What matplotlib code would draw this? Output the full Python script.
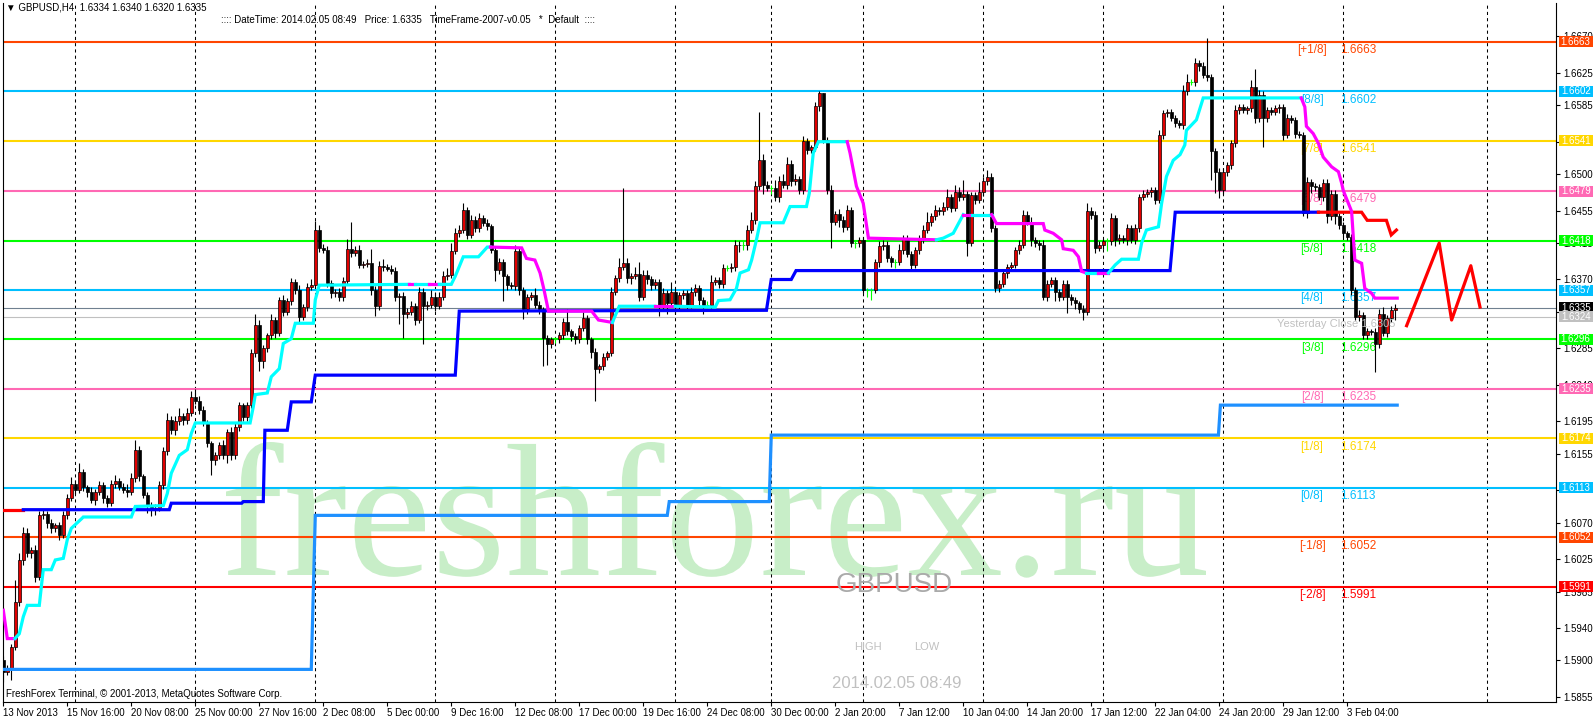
import numpy as np
import matplotlib
matplotlib.use("Agg")
import matplotlib.pyplot as plt
import matplotlib.transforms as mtransforms
from matplotlib.patches import Rectangle, PathPatch
from matplotlib.textpath import TextPath
from matplotlib.font_manager import FontProperties

plt.rcParams['font.family'] = ['Liberation Sans', 'DejaVu Sans']

# ---- candles (H4 GBPUSD, prices in pips: 16335 = 1.6335) ----
first_open = 15900
closes = [
    15886, 15890, 15917, 15972, 16024, 16057, 16032, 16036, 16003, 16079,
    16081, 16069, 16063, 16067, 16055, 16079, 16101, 16118, 16110, 16132,
    16114, 16108, 16098, 16108, 16117, 16100, 16094, 16118, 16121, 16114,
    16110, 16108, 16125, 16160, 16127, 16104, 16092, 16086, 16088, 16116,
    16158, 16197, 16184, 16195, 16201, 16197, 16205, 16225, 16220, 16209,
    16193, 16168, 16147, 16153, 16166, 16153, 16182, 16153, 16188, 16215,
    16200, 16215, 16279, 16314, 16269, 16285, 16301, 16320, 16304, 16345,
    16330, 16343, 16367, 16357, 16324, 16336, 16361, 16363, 16431, 16409,
    16407, 16366, 16353, 16355, 16349, 16368, 16408, 16403, 16406, 16388,
    16389, 16390, 16357, 16337, 16387, 16385, 16383, 16381, 16349, 16350,
    16327, 16330, 16337, 16320, 16355, 16337, 16339, 16349, 16337, 16349,
    16374, 16376, 16405, 16427, 16431, 16456, 16425, 16444, 16433, 16446,
    16440, 16436, 16407, 16382, 16392, 16374, 16363, 16362, 16405, 16357,
    16333, 16349, 16351, 16339, 16333, 16298, 16290, 16296, 16296, 16301,
    16318, 16306, 16300, 16296, 16310, 16322, 16296, 16281, 16259, 16263,
    16275, 16279, 16355, 16372, 16386, 16390, 16372, 16374, 16377, 16349,
    16376, 16370, 16363, 16367, 16337, 16353, 16341, 16355, 16339, 16351,
    16353, 16339, 16355, 16359, 16345, 16339, 16339, 16367, 16369, 16365,
    16384, 16384, 16386, 16413, 16412, 16412, 16431, 16443, 16485, 16517,
    16487, 16483, 16483, 16472, 16492, 16487, 16513, 16491, 16494, 16480,
    16541, 16530, 16533, 16584, 16600, 16542, 16480, 16441, 16451, 16443,
    16435, 16456, 16415, 16415, 16419, 16357, 16357, 16357, 16391, 16411,
    16413, 16396, 16392, 16392, 16406, 16421, 16402, 16388, 16406, 16419,
    16431, 16441, 16448, 16456, 16454, 16460, 16472, 16458, 16478, 16472,
    16475, 16415, 16474, 16468, 16478, 16491, 16497, 16433, 16359, 16365,
    16378, 16386, 16388, 16406, 16413, 16450, 16441, 16419, 16415, 16413,
    16349, 16365, 16369, 16355, 16349, 16365, 16349, 16345, 16341, 16334,
    16330, 16454, 16450, 16409, 16413, 16417, 16417, 16446, 16419, 16421,
    16419, 16433, 16419, 16433, 16472, 16476, 16478, 16480, 16468, 16548,
    16575, 16577, 16569, 16563, 16561, 16602, 16614, 16614, 16637, 16633,
    16622, 16620, 16528, 16503, 16480, 16503, 16511, 16538, 16579, 16583,
    16579, 16581, 16608, 16569, 16598, 16569, 16579, 16577, 16581, 16583,
    16548, 16569, 16567, 16550, 16548, 16452, 16490, 16485, 16484, 16472,
    16489, 16448, 16476, 16448, 16437, 16427, 16423, 16357, 16324, 16326,
    16302, 16306, 16305, 16291, 16328, 16304, 16322, 16332, 16335,
]
upper_wicks = [
    5, 4, 3, 27, 8, 8, 6, 4, 6, 5,
    6, 4, 6, 3, 4, 5, 4, 8, 5, 12,
    4, 3, 6, 4, 5, 3, 4, 5, 8, 4,
    5, 8, 6, 12, 4, 3, 4, 3, 5, 6,
    5, 8, 4, 6, 10, 4, 6, 8, 10, 6,
    5, 4, 3, 4, 3, 6, 4, 6, 5, 4,
    3, 4, 5, 14, 6, 4, 3, 8, 4, 4,
    6, 4, 5, 4, 6, 4, 5, 8, 11, 6,
    5, 4, 3, 3, 4, 5, 12, 33, 5, 6,
    4, 5, 18, 5, 6, 8, 4, 5, 4, 3,
    4, 5, 6, 4, 6, 4, 4, 8, 5, 6,
    6, 8, 10, 6, 6, 8, 4, 6, 4, 6,
    4, 5, 3, 4, 5, 3, 3, 4, 8, 4,
    4, 3, 3, 8, 4, 3, 4, 3, 3, 4,
    5, 16, 3, 4, 4, 8, 4, 3, 4, 3,
    4, 3, 6, 4, 10, 93, 6, 4, 8, 14,
    6, 6, 4, 4, 3, 6, 4, 12, 4, 3,
    4, 4, 6, 5, 4, 3, 4, 8, 4, 4,
    5, 4, 4, 6, 5, 5, 6, 10, 6, 60,
    8, 5, 4, 10, 6, 8, 8, 5, 6, 4,
    6, 4, 3, 5, 2, 0, 4, 6, 4, 6,
    5, 6, 4, 3, 3, 4, 3, 3, 4, 6,
    6, 4, 3, 3, 8, 4, 4, 3, 4, 6,
    6, 12, 4, 6, 4, 6, 10, 4, 8, 6,
    18, 4, 4, 4, 12, 5, 8, 4, 4, 4,
    4, 3, 3, 4, 6, 6, 4, 6, 4, 4,
    6, 4, 4, 4, 3, 4, 4, 3, 4, 3,
    4, 10, 6, 4, 5, 3, 4, 6, 4, 5,
    4, 6, 4, 5, 4, 5, 4, 4, 4, 6,
    4, 3, 3, 4, 4, 8, 10, 3, 6, 4,
    5, 46, 4, 4, 4, 5, 4, 4, 6, 4,
    4, 3, 8, 22, 6, 5, 4, 4, 4, 4,
    4, 5, 4, 4, 3, 4, 6, 4, 4, 4,
    5, 5, 4, 4, 4, 4, 3, 3, 4, 6,
    4, 4, 3, 5, 5, 8, 4, 5, 5,
]
lower_wicks = [
    12, 4, 14, 4, 5, 6, 4, 5, 6, 4,
    4, 5, 6, 4, 6, 4, 5, 4, 5, 4,
    5, 6, 4, 6, 4, 6, 5, 4, 5, 4,
    4, 6, 4, 5, 6, 4, 10, 8, 6, 4,
    5, 4, 5, 6, 4, 6, 5, 4, 4, 5,
    4, 5, 18, 6, 4, 5, 10, 6, 4, 5,
    4, 5, 4, 5, 12, 8, 5, 4, 6, 4,
    5, 4, 4, 5, 6, 4, 5, 4, 4, 5,
    4, 5, 6, 4, 5, 6, 4, 5, 4, 4,
    4, 3, 6, 12, 5, 4, 3, 4, 5, 34,
    29, 5, 4, 6, 4, 46, 5, 4, 6, 4,
    4, 5, 4, 4, 5, 4, 5, 4, 5, 4,
    4, 5, 4, 14, 5, 30, 6, 4, 5, 6,
    12, 5, 4, 4, 6, 35, 25, 4, 4, 4,
    4, 5, 6, 5, 4, 4, 6, 8, 39, 4,
    5, 4, 3, 4, 5, 4, 6, 8, 4, 5,
    4, 5, 6, 5, 12, 5, 14, 4, 12, 6,
    5, 8, 4, 5, 6, 12, 4, 5, 4, 5,
    6, 4, 5, 5, 8, 6, 5, 4, 5, 4,
    12, 4, 8, 5, 6, 4, 5, 6, 4, 5,
    4, 5, 4, 5, 6, 4, 4, 32, 4, 8,
    6, 4, 5, 6, 5, 4, 8, 12, 4, 6,
    5, 4, 6, 8, 4, 5, 4, 8, 4, 5,
    4, 4, 5, 4, 5, 4, 4, 5, 4, 5,
    4, 16, 4, 5, 4, 5, 4, 5, 4, 5,
    4, 6, 5, 4, 5, 4, 4, 8, 5, 6,
    4, 5, 4, 12, 5, 4, 20, 6, 8, 5,
    10, 4, 5, 6, 4, 5, 12, 4, 8, 5,
    4, 6, 4, 5, 4, 4, 4, 6, 5, 4,
    5, 4, 4, 5, 4, 5, 4, 4, 5, 6,
    4, 5, 35, 26, 10, 4, 5, 5, 4, 5,
    4, 5, 4, 6, 5, 36, 5, 4, 4, 5,
    6, 4, 4, 5, 4, 4, 6, 8, 5, 4,
    5, 8, 5, 10, 5, 4, 4, 6, 4, 5,
    6, 5, 4, 35, 5, 4, 5, 4, 12,
]

# ---- trailing line (cyan up / magenta down), vertices in bars / pips ----
trail_bars = [0, 1, 2.9, 4, 5, 6, 9, 9.6, 10, 12, 13, 15, 16, 17, 19.6, 20, 32, 33, 40, 41,
              42, 44, 46, 47, 48, 61.7, 62.5, 63, 66, 67, 69, 70, 72, 73, 77.5, 78, 79,
              101.5, 103, 106.5, 109, 112, 113, 115, 118.8, 121, 121.8, 129.6, 130.8, 132.9,
              134.2, 135.2, 136.3, 147.1, 148.8, 152.3, 152.7, 154, 162.9, 168, 178, 178.8,
              181.7, 183.3, 184.2, 186.3, 187.1, 188.3, 189.2, 195, 196.7, 200.8, 201.5, 202.5,
              203.8, 211, 211.7, 213.3, 215, 216.3, 233.3, 235, 237.5, 240, 242.1, 247.1,
              248.3, 260, 260.4, 262.5, 264.6, 265, 267.5, 268.8, 269.6, 270.8, 273.8, 276.3,
              278, 279.6, 283.8, 284.6, 285.8, 288.8, 289.6, 290.8, 292.5, 294.2, 295.4, 295.8,
              298.3, 300, 324.5, 325.4, 325.8, 327.5, 328.8, 330, 332.1, 333.8, 334.6, 335,
              337.1, 337.9, 339.6, 340.4, 342.1, 342.9, 348.5]
trail_pips = [15962, 15927, 15927, 15933, 15954, 15968, 15968, 15995, 16012, 16012, 16024, 16026,
              16049, 16063, 16075, 16077, 16077, 16090, 16091, 16106, 16131, 16153, 16160, 16180,
              16193, 16193, 16213, 16228, 16230, 16250, 16260, 16291, 16297, 16316, 16316, 16345,
              16363, 16364, 16364, 16364, 16364, 16364, 16374, 16398, 16398, 16410, 16410, 16409,
              16396, 16394, 16378, 16357, 16331, 16331, 16320, 16317, 16322, 16337, 16337, 16337,
              16336, 16344, 16345, 16359, 16378, 16382, 16394, 16419, 16440, 16440, 16460, 16460,
              16476, 16526, 16540, 16540, 16526, 16485, 16464, 16421, 16419, 16421, 16427, 16450,
              16450, 16450, 16439, 16439, 16431, 16427, 16419, 16408, 16406, 16398, 16380, 16378,
              16378, 16378, 16388, 16395, 16395, 16415, 16431, 16435, 16464, 16497, 16517, 16524,
              16536, 16554, 16567, 16594, 16594, 16583, 16559, 16550, 16538, 16521, 16509, 16503,
              16489, 16480, 16454, 16394, 16390, 16359, 16353, 16347, 16347]
trail_down = [(0, 2.9), (101.5, 103), (106.5, 109), (121.8, 152.3), (162.9, 168), (211, 233.3),
              (240, 242.1), (247.1, 270.8), (273.8, 276.3), (324.5, 348.5)]

# ---- blue step line (red where price is below) ----
step_bars = [-0.2, 5, 41.5, 42, 59.6, 60, 65, 65.4, 71, 72, 77, 78, 113, 114, 190.8, 192, 197,
             198.2, 291.7, 293, 328.8, 339.6, 341, 345.8, 347, 348.3]
step_pips = [16086, 16086, 16086, 16094, 16094, 16096, 16096, 16184, 16184, 16219, 16219, 16252,
             16252, 16331, 16332, 16370, 16370, 16381, 16381, 16453, 16453, 16453, 16443, 16443,
             16425, 16431]
step_red = [(-0.2, 5), (328.8, 348.3)]

# ---- lower support step line ----
support_bars = [-0.1, 77, 78, 166, 166.5, 191.5, 192, 303.8, 304.3, 348.5]
support_pips = [15889, 15889, 16079, 16079, 16096, 16096, 16178, 16178, 16215, 16215]

# ---- forecast zigzag ----
zig_bars = [350.85, 359.0, 362.1, 366.9, 369.2]
zig_pips = [16313, 16415, 16320, 16387, 16336]

# ---- Murrey math levels ----
murrey_names = ["[+1/8]", "[8/8]", "[7/8]", "[6/8]", "[5/8]", "[4/8]", "[3/8]", "[2/8]",
                "[1/8]", "[0/8]", "[-1/8]", "[-2/8]"]
murrey_prices = [1.6663, 1.6602, 1.6541, 1.6479, 1.6418, 1.6357, 1.6296, 1.6235, 1.6174,
                 1.6113, 1.6052, 1.5991]
murrey_colors = ["#FF4500", "#00BFFF", "#FFD700", "#FF69B4", "#00FF00", "#00BFFF", "#00FF00",
                 "#FF69B4", "#FFD700", "#00BFFF", "#FF4500", "#FF0000"]

ytick_values = [1.6670, 1.6625, 1.6585, 1.6540, 1.6500, 1.6455, 1.6415, 1.6370, 1.6330, 1.6285,
                1.6240, 1.6195, 1.6155, 1.6110, 1.6070, 1.6025, 1.5985, 1.5940, 1.5900, 1.5855]
# labels fully covered by the level boxes are left empty
ytick_labels = ["1.6670", "1.6625", "1.6585", "", "1.6500", "1.6455", "1.6415", "1.6370", "",
                "1.6285", "1.6240", "1.6195", "1.6155", "", "1.6070", "1.6025", "1.5985",
                "1.5940", "1.5900", "1.5855"]
xtick_bars = list(range(0, 337, 16))
xtick_labels = ["13 Nov 2013", "15 Nov 16:00", "20 Nov 08:00", "25 Nov 00:00", "27 Nov 16:00",
                "2 Dec 08:00", "5 Dec 00:00", "9 Dec 16:00", "12 Dec 08:00", "17 Dec 00:00",
                "19 Dec 16:00", "24 Dec 08:00", "30 Dec 00:00", "2 Jan 20:00", "7 Jan 12:00",
                "10 Jan 04:00", "14 Jan 20:00", "17 Jan 12:00", "22 Jan 04:00", "24 Jan 20:00",
                "29 Jan 12:00", "3 Feb 04:00"]
grid_bars = [18, 48, 78, 108, 138, 168, 192, 215, 245, 275, 305, 335, 371]

# ---------------------------------------------------------------
W, H = 1596, 720
pip = 0.0001
fig = plt.figure(figsize=(W / 100, H / 100), dpi=100)
ax = fig.add_axes([3 / W, 18 / H, 1553 / W, 699 / H])
ymin, ymax = 1.584876, 1.671111
ax.set_xlim(-0.075, 388.2)
ax.set_ylim(ymin, ymax)
px = (ymax - ymin) / 699  # price per pixel


def fx(x):
    return x / W


def fy(y):
    return 1 - y / H


# watermark
fp = FontProperties(family='Liberation Serif')
tpath = TextPath((0, 0), "freshforex.ru", size=100, prop=fp)
bb = tpath.get_extents()
sx = (1206 - 226) / bb.width
sy = (575 - 442) / bb.y1
tr = mtransforms.Affine2D().translate(-bb.x0, 0).scale(sx, sy).translate(226, H - 575)
ax.add_patch(PathPatch(tpath, transform=tr, facecolor='#C8EEC8', edgecolor='none', zorder=0.5))

# vertical grid
for g in grid_bars:
    ax.axvline(g, color='black', lw=0.75, ls=(0, (3, 3)), zorder=1)

# murrey lines + labels
for name, p, col in zip(murrey_names, murrey_prices, murrey_colors):
    ax.axhline(p, color=col, lw=1.5, zorder=2)
    ax.annotate(name, (327.2, p), xytext=(0, -6), textcoords='offset points', color=col,
                fontsize=8.5, ha='center', va='center', zorder=2.5)
    ax.annotate(f"{p:.4f}", (334.2, p), xytext=(0, -6), textcoords='offset points', color=col,
                fontsize=8.5, ha='left', va='center', zorder=2.5)

ax.axhline(1.6335, color='#708090', lw=0.8, zorder=2)
ax.axhline(1.6324, color='#C0C0C0', lw=0.8, zorder=2)

# candles
c_pips = np.array(closes)
o_pips = np.concatenate([[first_open], c_pips[:-1]])
hi = (np.maximum(o_pips, c_pips) + np.array(upper_wicks)) * pip
lo = (np.minimum(o_pips, c_pips) - np.array(lower_wicks)) * pip
bars = np.arange(len(c_pips))
doji = c_pips == o_pips
wick_cols = np.where(doji, '#00FF00', 'black')
ax.vlines(bars, lo, hi, colors=wick_cols, lw=0.8, zorder=3)
body_bot = np.minimum(o_pips, c_pips) * pip
body_h = np.abs(c_pips - o_pips) * pip
body_col = np.where(c_pips > o_pips, '#E00000', 'black')
nd = ~doji
ax.bar(bars[nd], body_h[nd], bottom=body_bot[nd], width=0.75, color=body_col[nd],
       edgecolor='black', linewidth=0.5, zorder=3.1)
ax.hlines(c_pips[doji] * pip, bars[doji] - 0.4, bars[doji] + 0.4, colors='#00FF00', lw=0.8,
          zorder=3.1)


def two_color(xs, ys, ranges, base, alt, lw, z):
    xs = np.asarray(xs, float)
    ys = np.asarray(ys, float) * pip
    flag = [any(a <= (xs[i] + xs[i + 1]) / 2 <= b for a, b in ranges) for i in range(len(xs) - 1)]
    start = 0
    for i in range(1, len(flag) + 1):
        if i == len(flag) or flag[i] != flag[start]:
            ax.plot(xs[start:i + 1], ys[start:i + 1], color=alt if flag[start] else base,
                    lw=lw, zorder=z, solid_joinstyle='miter')
            start = i


two_color(support_bars, support_pips, [], '#1E90FF', '#1E90FF', 2.3, 4)
two_color(step_bars, step_pips, step_red, '#0000FF', '#FF0000', 2.3, 4.2)
two_color(trail_bars, trail_pips, trail_down, '#00FFFF', '#FF00FF', 2.3, 4.4)
ax.plot(zig_bars, np.array(zig_pips) * pip, color='#FF0000', lw=2.3, zorder=4.5)

# axes styling
for s in ['left', 'bottom', 'right']:
    ax.spines[s].set_linewidth(0.8)
    ax.spines[s].set_color('black')
ax.spines['top'].set_visible(False)
ax.yaxis.tick_right()
ax.set_yticks(ytick_values)
ax.set_yticklabels(ytick_labels, fontsize=7)
ax.tick_params(axis='y', direction='out', length=3, width=0.8, pad=2)
ax.set_xticks(xtick_bars)
ax.set_xticklabels(xtick_labels, fontsize=7, ha='left')
ax.tick_params(axis='x', direction='out', length=3, width=0.8, pad=1)

# price boxes on the right axis
box_prices = murrey_prices + [1.6335, 1.6324]
box_colors = murrey_colors + ['black', '#C0C0C0']
btr = mtransforms.blended_transform_factory(ax.transAxes, ax.transData)
bx0 = (1558.7 - 3) / 1553
bw = 34 / 1553
bh = 11 * px
for p, col in zip(box_prices, box_colors):
    ax.add_patch(Rectangle((bx0, p - bh / 2), bw, bh, transform=btr, facecolor=col,
                           edgecolor='none', clip_on=False, zorder=10))
    ax.text(bx0 + bw / 2, p, f"{p:.4f}", transform=btr, color='white', fontsize=7,
            ha='center', va='center', clip_on=False, zorder=11)

# texts
fig.text(fx(6), fy(8), "\u25bc GBPUSD,H4  1.6334 1.6340 1.6320 1.6335", fontsize=7,
         va='center', ha='left')
fig.text(fx(221), fy(20), ":::: DateTime: 2014.02.05 08:49   Price: 1.6335   "
         "TimeFrame-2007-v0.05   *  Default  ::::", fontsize=7, va='center', ha='left')
fig.text(fx(6), fy(694), "FreshForex Terminal, \u00a9 2001-2013, MetaQuotes Software Corp.",
         fontsize=7, va='center', ha='left')
fig.text(fx(894), fy(585), "GBPUSD", fontsize=20, color='#AAAAAA', ha='center', va='center')
fig.text(fx(868), fy(647), "HIGH", fontsize=8, color='#C0C0C0', ha='center', va='center')
fig.text(fx(927), fy(647), "LOW", fontsize=8, color='#C0C0C0', ha='center', va='center')
fig.text(fx(897), fy(684), "2014.02.05 08:49", fontsize=12, color='#C0C0C0', ha='center',
         va='center')
fig.text(fx(1336), fy(324), "Yesterday Close 1.6305", fontsize=8, color='#C0C0C0',
         ha='center', va='center')

fig.savefig("out.png", dpi=100)
